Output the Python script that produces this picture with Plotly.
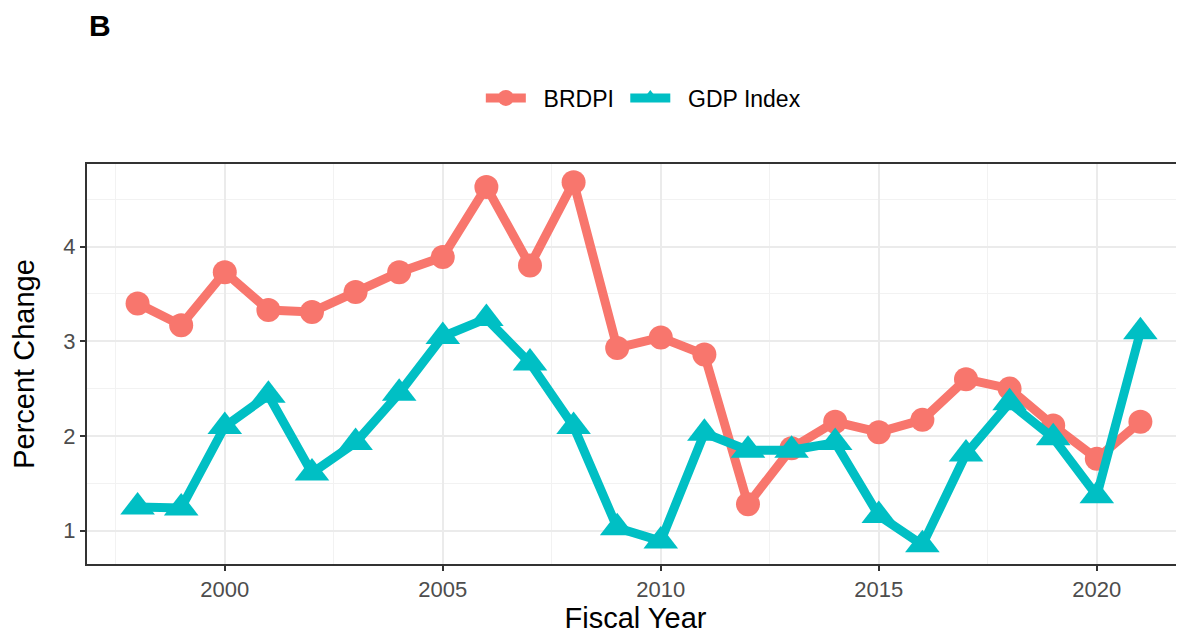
import plotly.graph_objects as go

years = list(range(1998, 2022))
brdpi = [3.40, 3.17, 3.73, 3.33, 3.31, 3.52, 3.73, 3.89, 4.63, 3.80, 4.68, 2.93,
         3.04, 2.86, 1.28, 1.87, 2.15, 2.04, 2.17, 2.60, 2.50, 2.11, 1.76, 2.15]
gdp_index = [1.25, 1.24, 2.10, 2.43, 1.61, 1.93, 2.45, 3.05, 3.24, 2.77, 2.10, 1.03,
             0.89, 2.03, 1.85, 1.85, 1.93, 1.16, 0.85, 1.81, 2.35, 1.98, 1.37, 3.10]
series_names = ["BRDPI", "GDP Index"]

red = "#F8766D"
teal = "#00BFC4"
font_family = "Liberation Sans, Arial"
nb = "\u00a0"  # non-breaking spaces to space out the legend like ggplot

fig = go.Figure()
fig.add_trace(go.Scatter(x=years, y=brdpi, name=nb * 2 + series_names[0] + nb,
                         mode="lines+markers",
                         line=dict(color=red, width=9),
                         marker=dict(symbol="circle", size=24, color=red)))
fig.add_trace(go.Scatter(x=years, y=gdp_index, name=nb * 2 + series_names[1],
                         mode="lines+markers",
                         line=dict(color=teal, width=9),
                         marker=dict(symbol="triangle-up", size=30, color=teal)))

axis_style = dict(
    showgrid=True, gridcolor="#ebebeb", gridwidth=1.6,
    showline=True, linecolor="#333333", linewidth=2,
    ticks="outside", ticklen=5, tickwidth=1.5, tickcolor="#333333",
    tickfont=dict(family=font_family, size=22, color="#4d4d4d"),
    zeroline=False,
)

fig.update_xaxes(**axis_style, range=[1996.84, 2022.0], tick0=2000, dtick=5, mirror=True,
                 minor=dict(dtick=2.5, tick0=2000, showgrid=True, gridcolor="#f2f2f2",
                            gridwidth=1, ticks=""),
                 title=dict(text="Fiscal Year", standoff=6,
                            font=dict(family=font_family, size=29, color="black")))
fig.update_yaxes(**axis_style, range=[0.648, 4.872], tick0=1, dtick=1,
                 minor=dict(dtick=0.5, tick0=1, showgrid=True, gridcolor="#f2f2f2",
                            gridwidth=1, ticks=""),
                 title=dict(text="Percent Change", standoff=20,
                            font=dict(family=font_family, size=29, color="black")))

# page body has an 8px margin, so the figure is 8px smaller than the window
fig.update_layout(
    width=1176, height=627,
    margin=dict(l=79, r=0, t=156, b=71),
    plot_bgcolor="white", paper_bgcolor="white",
    showlegend=True,
    legend=dict(orientation="h", x=0.359, xanchor="left", y=1.165, yanchor="middle",
                font=dict(family=font_family, size=23, color="black"),
                itemwidth=40),
    annotations=[dict(text="<b>B</b>", xref="paper", yref="paper", x=0, y=1.3475,
                      xanchor="left", yanchor="middle", showarrow=False,
                      font=dict(family=font_family, size=30, color="black"))],
)

fig.write_html("out.html")
